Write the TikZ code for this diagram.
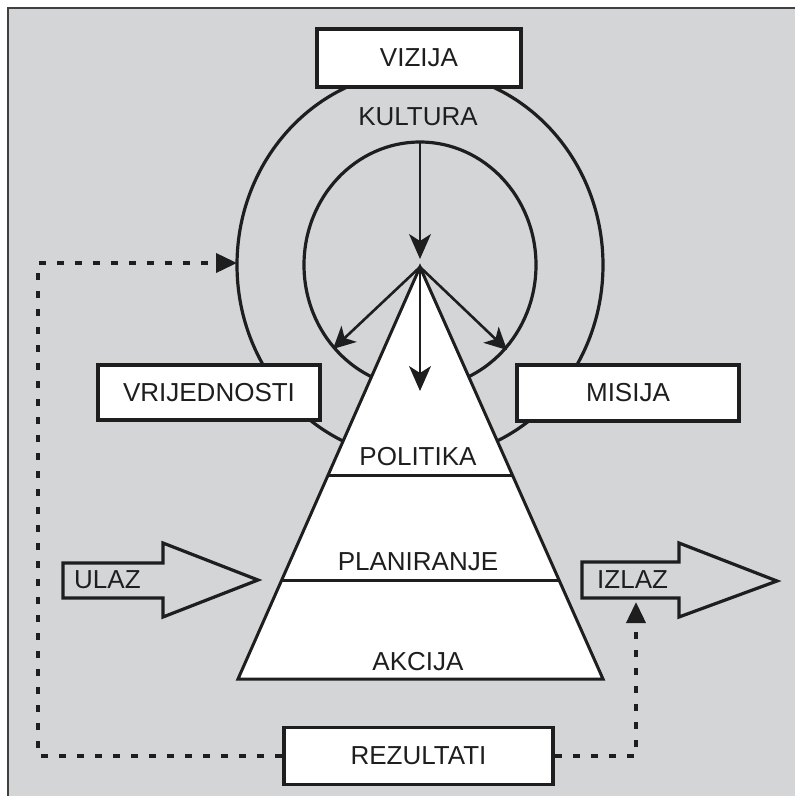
\documentclass[tikz,border=0pt]{standalone}
\usepackage{fontspec}
\setmainfont{Liberation Sans}
\usetikzlibrary{arrows.meta,calc}
\definecolor{bg}{RGB}{212,213,215}
\definecolor{ink}{RGB}{30,30,30}
\tikzset{
  lbl/.style={font=\fontsize{26}{30}\selectfont, text=ink, inner sep=0pt},
  boxnode/.style={lbl, draw=ink, line width=3.6pt, fill=white, inner sep=0pt},
  ring/.style={draw=ink, line width=3.2pt},
  edgeline/.style={draw=ink, line width=3pt},
  thinarrow/.style={draw=ink, line width=1.5pt, -{Stealth[length=25pt,width=22pt,inset=7pt]}},
  diagarrow/.style={draw=ink, line width=2.6pt, -{Stealth[length=22pt,width=22pt,inset=6pt]}},
  dashline/.style={draw=ink, line width=3.8pt, dash pattern=on 7pt off 11pt, -{Triangle[length=21pt,width=19pt]}},
  blockarrow/.style={draw=ink, line width=3.2pt, line join=miter}
}
\begin{document}
\begin{tikzpicture}[x=1pt,y=-1pt]
% canvas and frame
\useasboundingbox (0,0) rectangle (795,796);
\fill[white] (0,0) rectangle (795,796);
\fill[bg] (8,8) rectangle (795,796);
\draw[ink!85, line width=2pt] (8,796) -- (8,8) -- (795,8);

% rings
\draw[ring] (420,265) ellipse [x radius=183pt, y radius=194pt];
\draw[ring] (420,265) ellipse [x radius=116pt, y radius=123pt];

% pyramid
\coordinate (apex) at (420,267);
\coordinate (bl) at (238,679);
\coordinate (br) at (603,679);
\filldraw[fill=white, edgeline, line join=miter] (apex) -- (bl) -- (br) -- cycle;
\draw[edgeline] ($(apex)!0.505!(bl)$) -- ($(apex)!0.505!(br)$);
\draw[edgeline] ($(apex)!0.76!(bl)$) -- ($(apex)!0.76!(br)$);
\node[lbl] (politika) at (418,457) {POLITIKA};
\node[lbl] (planiranje) at (418,562) {PLANIRANJE};
\node[lbl] (akcija) at (418,662) {AKCIJA};

% arrows in the rings
\coordinate (ringtop) at (420,142);
\coordinate (apextip) at (420,259);
\coordinate (downtip) at (420,391);
\coordinate (lefttip) at (333,349);
\coordinate (righttip) at (507,350);
\draw[thinarrow] (ringtop) -- (apextip);
\draw[thinarrow] (apex) -- (downtip);
\draw[diagarrow] (apex) -- (lefttip);
\draw[diagarrow] (apex) -- (righttip);

% boxes
\node[boxnode, minimum width=204pt, minimum height=58pt] (vizija) at (419,58) {VIZIJA};
\node[lbl] (kultura) at (418,117) {KULTURA};
\node[boxnode, minimum width=222pt, minimum height=55pt] (vrijednosti) at (209,392.5) {VRIJEDNOSTI};
\node[boxnode, minimum width=222pt, minimum height=56pt] (misija) at (628,393) {MISIJA};
\node[boxnode, minimum width=269pt, minimum height=57pt] (rezultati) at (418.5,756) {REZULTATI};

% block arrows
\draw[blockarrow] (63,563) -- (163,563) -- (163,543) -- (258,580) -- (163,617) -- (163,598) -- (63,598) -- cycle;
\node[lbl, anchor=west] (ulaz) at (74,580) {ULAZ};
\draw[blockarrow] (582,562) -- (679,562) -- (679,543) -- (777,581) -- (679,617) -- (679,598) -- (582,598) -- cycle;
\node[lbl, anchor=west] (izlaz) at (597,580) {IZLAZ};

% feedback loops
\coordinate (cornerL) at (38,263);
\coordinate (ringleft) at (237,263);
\coordinate (izlazin) at (636,602);
\draw[dashline] (rezultati.west) -| (cornerL) -- (ringleft);
\draw[dashline] (rezultati.east) -| (izlazin);
\end{tikzpicture}
\end{document}
